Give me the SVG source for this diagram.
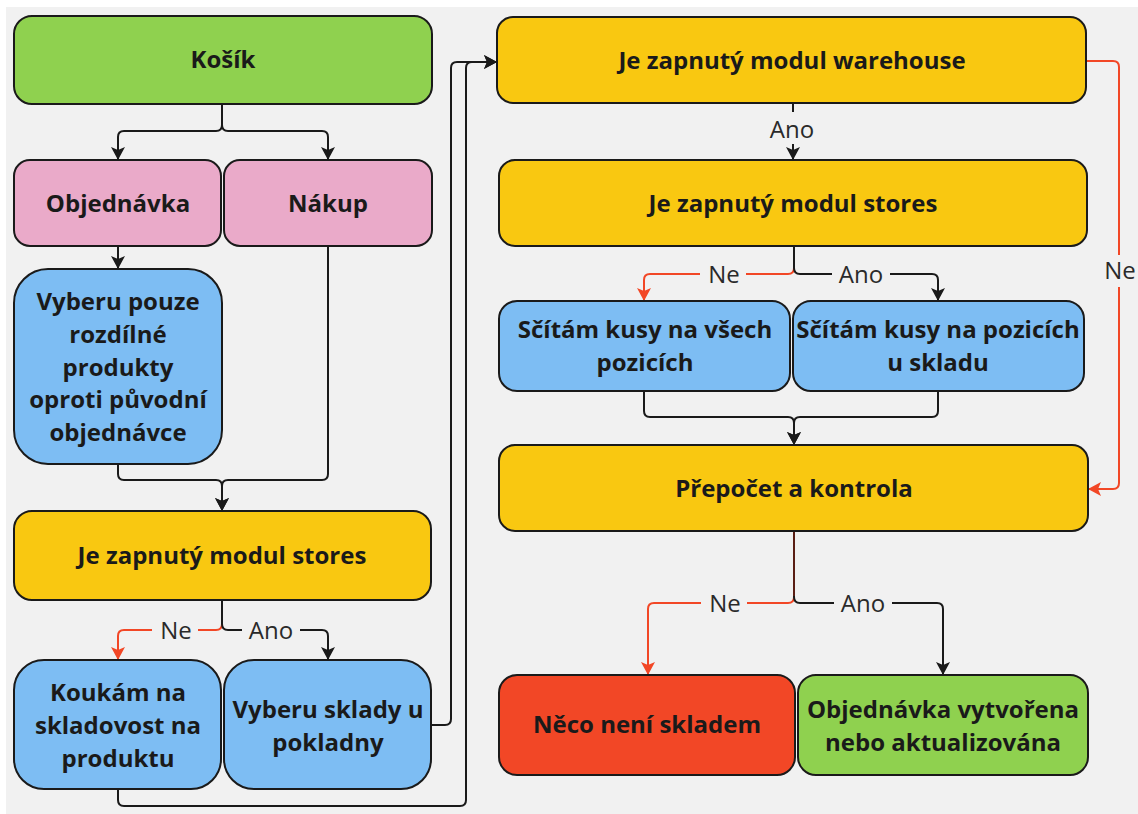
<svg xmlns="http://www.w3.org/2000/svg" width="1138" height="814" viewBox="0 0 1138 814">
<style>
.n{stroke:#1a1a1a;stroke-width:2}
.g{fill:#8fd14f}.p{fill:#eaaac9}.b{fill:#7dbdf3}.y{fill:#f9c811}.r{fill:#f24726}
.t{font-family:"Open Sans","Noto Sans","DejaVu Sans",sans-serif;font-weight:700;font-size:24px;fill:#1a1a1a;text-anchor:middle;dominant-baseline:central;transform:translateY(-2px)}
.c{fill:none;stroke:#1a1a1a;stroke-width:2}
.cr{fill:none;stroke:#f24726;stroke-width:2}
.l{font-family:"Open Sans","Noto Sans","DejaVu Sans",sans-serif;font-size:24px;fill:#2a2a2a;text-anchor:middle;dominant-baseline:central;transform:translateY(-1px)}
.lb{fill:#f1f1f1}
</style>
<defs>
<marker id="ab" markerUnits="userSpaceOnUse" markerWidth="15" markerHeight="15" refX="13" refY="7" orient="auto" viewBox="0 0 15 14">
<path d="M0,0 L13,7 L0,14 L3,7 z" fill="#1a1a1a"/>
</marker>
<marker id="ar" markerUnits="userSpaceOnUse" markerWidth="15" markerHeight="15" refX="13" refY="7" orient="auto" viewBox="0 0 15 14">
<path d="M0,0 L13,7 L0,14 L3,7 z" fill="#f24726"/>
</marker>
</defs>
<rect x="6" y="7" width="1132" height="807" fill="#f1f1f1"/>

<g id="connectors">
<path class="c" d="M222,104 V125 Q222,131 216,131 H124 Q118,131 118,137 V160" marker-end="url(#ab)"/>
<path class="c" d="M222,104 V125 Q222,131 228,131 H322 Q328,131 328,137 V160" marker-end="url(#ab)"/>
<path class="c" d="M118,246 V269" marker-end="url(#ab)"/>
<path class="c" d="M328,246 V474 Q328,480 322,480 H228 Q222,480 222,486 V511" marker-end="url(#ab)"/>
<path class="c" d="M118,464 V474 Q118,480 124,480 H216 Q222,480 222,486 V511" marker-end="url(#ab)"/>
<path class="cr" d="M222,600 V624 Q222,630 216,630 H124 Q118,630 118,636 V660" marker-end="url(#ar)"/>
<path class="c" d="M222,600 V624 Q222,630 228,630 H322 Q328,630 328,636 V660" marker-end="url(#ab)"/>
<path class="c" d="M431,725 H445 Q451,725 451,719 V68 Q451,62 457,62 H497" marker-end="url(#ab)"/>
<path class="c" d="M118,789 V800 Q118,806 124,806 H460 Q466,806 466,800 V68 Q466,62 472,62 H497" marker-end="url(#ab)"/>
<path class="c" d="M793,103 V160" marker-end="url(#ab)"/>
<path class="cr" d="M1086,61 H1113 Q1119,61 1119,67 V483 Q1119,489 1113,489 H1088" marker-end="url(#ar)"/>
<path class="cr" d="M794,246 V268 Q794,274 788,274 H650 Q644,274 644,280 V301" marker-end="url(#ar)"/>
<path class="c" d="M794,246 V268 Q794,274 800,274 H932 Q938,274 938,280 V301" marker-end="url(#ab)"/>
<path class="c" d="M644,391 V411 Q644,417 650,417 H788 Q794,417 794,423 V445" marker-end="url(#ab)"/>
<path class="c" d="M938,391 V411 Q938,417 932,417 H800 Q794,417 794,423 V445" marker-end="url(#ab)"/>
<path class="cr" d="M794,531 V597 Q794,603 788,603 H654 Q648,603 648,609 V675" marker-end="url(#ar)"/>
<path class="c" d="M794,531 V597 Q794,603 800,603 H937 Q943,603 943,609 V675" marker-end="url(#ab)"/>
<path d="M794,532 V596" stroke="#5a1e14" stroke-width="2"/>
<rect class="lb" x="152" y="617" width="46" height="26"/>
<text class="l" x="176" y="630">Ne</text>
<rect class="lb" x="242" y="617" width="58" height="26"/>
<text class="l" x="271" y="630">Ano</text>
<rect class="lb" x="762" y="112" width="60" height="32"/>
<text class="l" x="792" y="129">Ano</text>
<rect class="lb" x="1103" y="255" width="32" height="32"/>
<text class="l" x="1120" y="270">Ne</text>
<rect class="lb" x="700" y="261" width="46" height="26"/>
<text class="l" x="724" y="274">Ne</text>
<rect class="lb" x="832" y="261" width="58" height="26"/>
<text class="l" x="861" y="274">Ano</text>
<rect class="lb" x="701" y="590" width="46" height="26"/>
<text class="l" x="725" y="603">Ne</text>
<rect class="lb" x="834" y="590" width="58" height="26"/>
<text class="l" x="863" y="603">Ano</text>
</g>

<g id="kosik"><rect class="n g" x="14" y="16" width="418" height="88" rx="18"/><text class="t" x="223" y="60">Košík</text></g>
<g id="objednavka"><rect class="n p" x="14" y="160" width="207" height="86" rx="16"/><text class="t" x="118" y="204">Objednávka</text></g>
<g id="nakup"><rect class="n p" x="224" y="160" width="208" height="86" rx="16"/><text class="t" x="328" y="204">Nákup</text></g>
<g id="vyberu-pouze"><rect class="n b" x="14" y="269" width="208" height="195" rx="34"/>
<text class="t" x="118" y="302">Vyberu pouze</text><text class="t" x="118" y="335">rozdílné</text><text class="t" x="118" y="368">produkty</text><text class="t" x="118" y="400">oproti původní</text><text class="t" x="118" y="433">objednávce</text></g>
<g id="stores-left"><rect class="n y" x="14" y="511" width="417" height="89" rx="18"/><text class="t" x="222" y="556">Je zapnutý modul stores</text></g>
<g id="koukam"><rect class="n b" x="14" y="660" width="207" height="129" rx="30"/>
<text class="t" x="118" y="693">Koukám na</text><text class="t" x="118" y="726">skladovost na</text><text class="t" x="118" y="759">produktu</text></g>
<g id="vyberu-sklady"><rect class="n b" x="224" y="660" width="207" height="129" rx="30"/>
<text class="t" x="328" y="710">Vyberu sklady u</text><text class="t" x="328" y="743">pokladny</text></g>
<g id="warehouse"><rect class="n y" x="497" y="17" width="589" height="86" rx="16"/><text class="t" x="792" y="61">Je zapnutý modul warehouse</text></g>
<g id="stores-right"><rect class="n y" x="499" y="160" width="588" height="86" rx="16"/><text class="t" x="793" y="204">Je zapnutý modul stores</text></g>
<g id="scitam-vsech"><rect class="n b" x="499" y="301" width="291" height="90" rx="18"/>
<text class="t" x="645" y="330">Sčítám kusy na všech</text><text class="t" x="645" y="363">pozicích</text></g>
<g id="scitam-sklad"><rect class="n b" x="793" y="301" width="291" height="90" rx="18"/>
<text class="t" x="938" y="330">Sčítám kusy na pozicích</text><text class="t" x="938" y="363">u skladu</text></g>
<g id="prepocet"><rect class="n y" x="499" y="445" width="589" height="86" rx="16"/><text class="t" x="794" y="489">Přepočet a kontrola</text></g>
<g id="neco"><rect class="n r" x="499" y="675" width="296" height="100" rx="18"/><text class="t" x="647" y="725">Něco není skladem</text></g>
<g id="vytvorena"><rect class="n g" x="798" y="675" width="290" height="100" rx="18"/>
<text class="t" x="943" y="710">Objednávka vytvořena</text><text class="t" x="943" y="743">nebo aktualizována</text></g>
</svg>
